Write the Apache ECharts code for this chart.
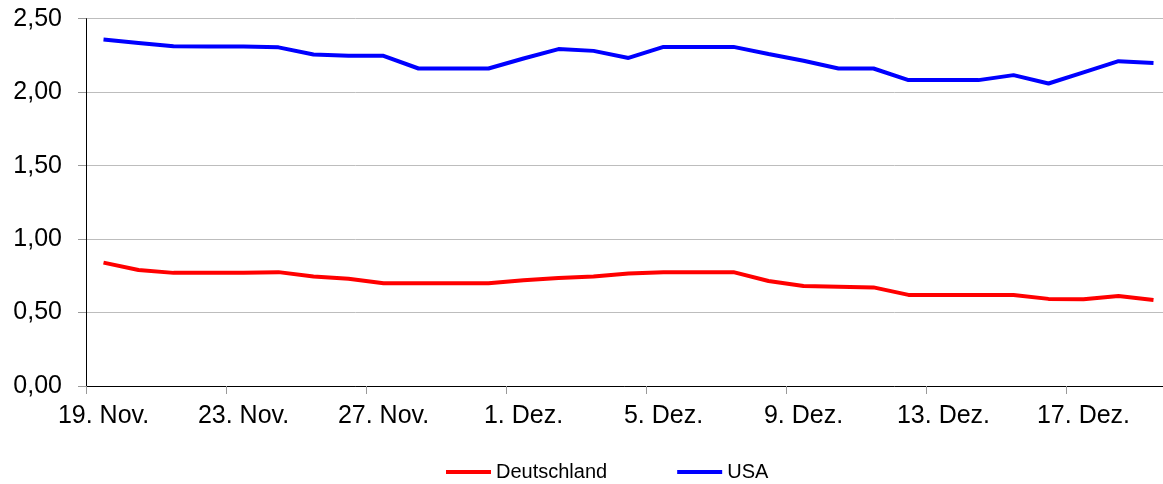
<!DOCTYPE html>
<html>
<head>
<meta charset="utf-8">
<script src="https://cdn.jsdelivr.net/npm/echarts@6/dist/echarts.min.js"></script>
<style>
html,body{margin:0;padding:0;background:#fff;}
#chart{width:1163px;height:484px;}
</style>
</head>
<body>
<div id="chart"></div>
<script>
const categories = [
  "19. Nov.","20. Nov.","21. Nov.","22. Nov.","23. Nov.","24. Nov.","25. Nov.","26. Nov.","27. Nov.","28. Nov.","29. Nov.","30. Nov.",
  "1. Dez.","2. Dez.","3. Dez.","4. Dez.","5. Dez.","6. Dez.","7. Dez.","8. Dez.","9. Dez.","10. Dez.","11. Dez.","12. Dez.",
  "13. Dez.","14. Dez.","15. Dez.","16. Dez.","17. Dez.","18. Dez.","19. Dez."
];
const deutschland = [
  0.84,0.79,0.77,0.77,0.77,0.775,0.745,0.73,0.70,0.70,0.70,0.70,
  0.72,0.735,0.745,0.765,0.775,0.775,0.775,0.715,0.68,0.676,0.671,0.62,
  0.62,0.62,0.62,0.593,0.59,0.612,0.586
];
const usa = [
  2.358,2.335,2.312,2.31,2.31,2.305,2.256,2.247,2.247,2.161,2.161,2.161,
  2.229,2.293,2.281,2.233,2.308,2.308,2.308,2.26,2.214,2.161,2.161,2.082,
  2.082,2.082,2.116,2.059,2.135,2.211,2.199
];
const seriesNames = ["Deutschland","USA"];
const yTicks = [0,0.5,1,1.5,2,2.5];

const FONT = "Liberation Sans, Arial, sans-serif";
const chart = echarts.init(document.getElementById('chart'), null, {renderer:'canvas'});
chart.setOption({
  backgroundColor:'#ffffff',
  animation:false,
  grid:{left:86, top:18.7, width:1085, bottom:98, containLabel:false, outerBoundsMode:'none'},
  legend:{
    left:441, top:457,
    icon:'rect', itemWidth:45, itemHeight:4, itemGap:70,
    textStyle:{fontFamily:FONT, fontSize:20, color:'#000'},
    data:seriesNames
  },
  xAxis:{
    type:'category', data:categories, boundaryGap:true,
    axisLine:{show:true, lineStyle:{color:'#000', width:1}},
    axisTick:{show:true, interval:3, length:8, lineStyle:{color:'#999'}},
    axisLabel:{interval:3, margin:18, fontFamily:FONT, fontSize:25, color:'#000'},
    splitLine:{show:false}
  },
  yAxis:{
    type:'value', min:yTicks[0], max:yTicks[yTicks.length-1], interval:0.5,
    axisLine:{show:true, lineStyle:{color:'#000', width:1}},
    axisTick:{show:true, length:8, lineStyle:{color:'#999'}},
    axisLabel:{margin:24, fontFamily:FONT, fontSize:25, color:'#000',
      formatter:v=>v.toFixed(2).replace('.',',')},
    splitLine:{show:true, lineStyle:{color:'#bdbdbd', width:1}}
  },
  series:[
    {name:seriesNames[0], type:'line', data:deutschland, showSymbol:false, symbol:'none',
     lineStyle:{color:'#ff0000', width:4}, itemStyle:{color:'#ff0000'}},
    {name:seriesNames[1], type:'line', data:usa, showSymbol:false, symbol:'none',
     lineStyle:{color:'#0000ff', width:4}, itemStyle:{color:'#0000ff'}}
  ]
});
</script>
</body>
</html>
